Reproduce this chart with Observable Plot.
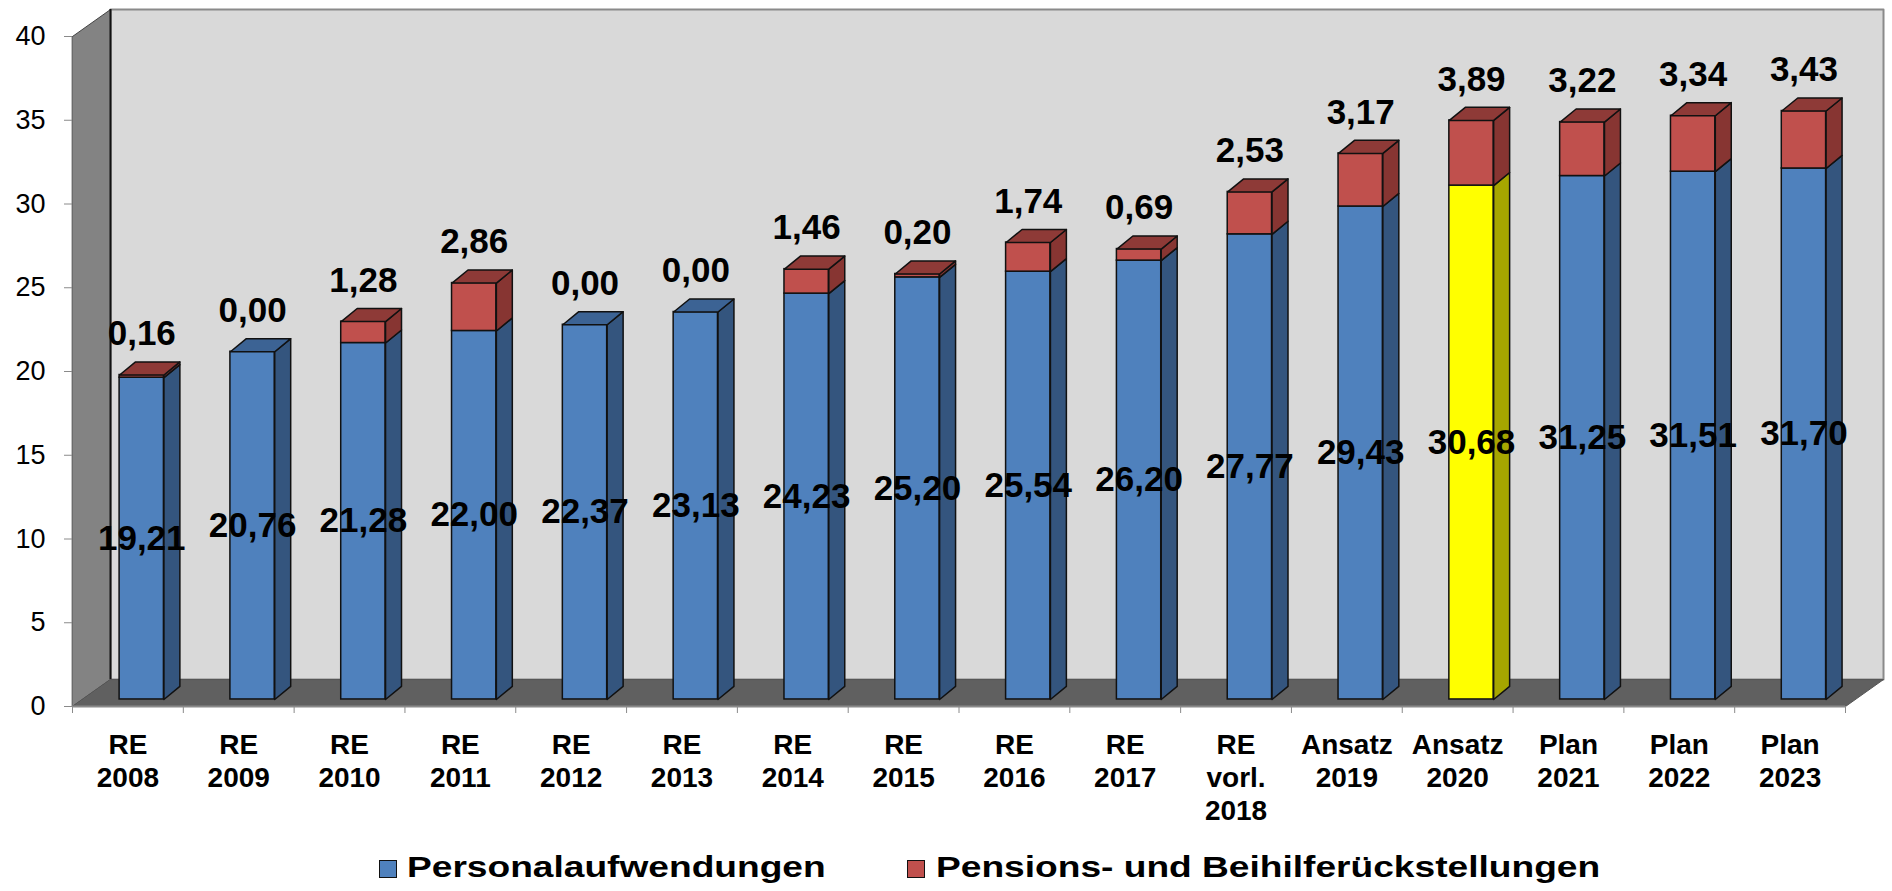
<!DOCTYPE html>
<html>
<head>
<meta charset="utf-8">
<script src="https://cdn.jsdelivr.net/npm/d3@7"></script>
<script src="https://cdn.jsdelivr.net/npm/@observablehq/plot@0.6"></script>
<style>
  body { margin: 0; background: #fff; font-family: "Liberation Sans", Arial, sans-serif; }
  #legend { position: relative; width: 1892px; height: 61px; }
  .sw { position: absolute; top: 30px; width: 18px; height: 18px; border: 1.5px solid #111; box-sizing: border-box; }
  .lt { position: absolute; top: 23px; font-weight: bold; font-size: 29px; line-height: 1; white-space: nowrap;
        transform-origin: left center; transform: scaleX(1.28); color: #000; }
</style>
</head>
<body>
<div id="chart"></div>
<div id="legend"></div>
<script>
// ---- data ----
const categories = [
  "RE\n2008", "RE\n2009", "RE\n2010", "RE\n2011", "RE\n2012", "RE\n2013", "RE\n2014", "RE\n2015",
  "RE\n2016", "RE\n2017", "RE\nvorl.\n2018", "Ansatz\n2019", "Ansatz\n2020", "Plan\n2021", "Plan\n2022", "Plan\n2023"
];
const personal = [19.21, 20.76, 21.28, 22.00, 22.37, 23.13, 24.23, 25.20, 25.54, 26.20, 27.77, 29.43, 30.68, 31.25, 31.51, 31.70];
const pension  = [0.16, 0.00, 1.28, 2.86, 0.00, 0.00, 1.46, 0.20, 1.74, 0.69, 2.53, 3.17, 3.89, 3.22, 3.34, 3.43];
const highlight = "Ansatz\n2020";
const yTicks = [0, 5, 10, 15, 20, 25, 30, 35, 40];
const seriesNames = ["Personalaufwendungen", "Pensions- und Beihilferückstellungen"];

// ---- styling / 3D geometry constants ----
const n = categories.length;
const BAR_X0 = 0.425, BAR_W = 0.4;      // bar front face within category band
const BASE = 0.42;                       // bar sits slightly back from the floor front edge
const DX = 0.144, DY = 0.78;             // bar depth (x in band units, y in value units)
const WDX = 0.343, WDY = 1.61;           // wall / floor depth
const blueC = {front: "#4f81bd", side: "#34557e", top: "#3c6394"};
const yellowC = {front: "#ffff00", side: "#a6a600", top: "#b5b500"};
const redC = {front: "#c0504d", side: "#873532", top: "#8e3a37"};
const fmt = v => v.toFixed(2).replace(".", ",");

const rows = categories.map((c, i) => ({c, i, blue: personal[i], red: pension[i], total: personal[i] + pension[i]}));

// segments (front faces)
const segs = [];
rows.forEach(r => {
  const bc = r.c === highlight ? yellowC : blueC;
  segs.push({i: r.i, y1: BASE, y2: BASE + r.blue, ...bc});
  if (r.red > 0) segs.push({i: r.i, y1: BASE + r.blue, y2: BASE + r.total, ...redC});
});

// side and top polygons
const polys = [];
segs.forEach((s, k) => {
  const x2 = s.i + BAR_X0 + BAR_W;
  [[x2, s.y1], [x2, s.y2], [x2 + DX, s.y2 + DY], [x2 + DX, s.y1 + DY]]
    .forEach(([x, y]) => polys.push({id: "side" + k, x, y, fill: s.side}));
});
rows.forEach(r => {
  const bc = r.c === highlight ? yellowC : blueC;
  const x1 = r.i + BAR_X0, x2 = x1 + BAR_W, y = BASE + r.total;
  const fill = r.red > 0 ? redC.top : bc.top;
  [[x1, y], [x2, y], [x2 + DX, y + DY], [x1 + DX, y + DY]]
    .forEach(([x, yy]) => polys.push({id: "top" + r.i, x, y: yy, fill}));
});

// walls
const yMax = yTicks[yTicks.length - 1];
const back = [[WDX, WDY], [n + WDX, WDY], [n + WDX, yMax + WDY], [WDX, yMax + WDY]].map(([x, y]) => ({id: "back", x, y}));
const left = [[0, 0], [WDX, WDY], [WDX, yMax + WDY], [0, yMax]].map(([x, y]) => ({id: "left", x, y}));
const floor = [[0, 0], [n, 0], [n + WDX, WDY], [WDX, WDY]].map(([x, y]) => ({id: "floor", x, y}));

const chart = Plot.plot({
  width: 1892,
  height: 830,
  marginLeft: 72,
  marginRight: 47,
  marginTop: 36,
  marginBottom: 124,
  style: {fontFamily: "'Liberation Sans', Arial, sans-serif", background: "#fff", overflow: "visible"},
  x: {type: "linear", domain: [0, n], axis: null, label: null},
  y: {type: "linear", domain: [0, yMax], axis: null, label: null},
  color: {type: "identity"},
  marks: [
    Plot.line(back, {x: "x", y: "y", z: "id", fill: "#d9d9d9", stroke: "#8a8a8a", strokeWidth: 2, curve: "linear-closed"}),
    Plot.line(left, {x: "x", y: "y", z: "id", fill: "#838383", stroke: "#444", strokeWidth: 1, curve: "linear-closed"}),
    Plot.line(floor, {x: "x", y: "y", z: "id", fill: "#606060", stroke: "#555", strokeWidth: 1, curve: "linear-closed"}),
    Plot.ruleX([WDX], {y1: WDY, y2: yMax + WDY, stroke: "#111", strokeWidth: 2}),
    Plot.ruleY([0], {x1: 0, x2: n, stroke: "#8a8a8a", strokeWidth: 2}),
    Plot.axisY({ticks: yTicks, anchor: "left", tickSize: 8, tickPadding: 19, fontSize: 27, stroke: "#8a8a8a", fill: "#000", label: null}),
    Plot.axisX({ticks: d3.range(0, n + 1), anchor: "bottom", tickSize: 7, tickFormat: () => "", stroke: "#8a8a8a", label: null}),
    Plot.axisX({ticks: d3.range(n).map(i => i + 0.5), anchor: "bottom", tickSize: 0, tickPadding: 24,
      tickFormat: v => categories[Math.floor(v)], fontSize: 28, fontWeight: "bold", lineHeight: 1.18, fill: "#000", label: null}),
    Plot.rect(segs, {x1: d => d.i + BAR_X0, x2: d => d.i + BAR_X0 + BAR_W, y1: "y1", y2: "y2", fill: "front", stroke: "#111", strokeWidth: 1.5}),
    Plot.line(polys, {x: "x", y: "y", z: "id", fill: "fill", stroke: "#111", strokeWidth: 1.5, curve: "linear-closed"}),
    Plot.text(rows, {x: d => d.i + BAR_X0 + BAR_W / 2, y: d => BASE + d.blue / 2, text: d => fmt(d.blue),
      fontSize: 35, fontWeight: "bold", fill: "#000"}),
    Plot.text(rows, {x: d => d.i + BAR_X0 + BAR_W / 2, y: d => BASE + d.total, text: d => fmt(d.red),
      dy: -41, fontSize: 35, fontWeight: "bold", fill: "#000"})
  ]
});
document.getElementById("chart").appendChild(chart);

// legend
const legend = document.getElementById("legend");
const legendItems = [
  {name: seriesNames[0], color: blueC.front, sx: 379, tx: 407},
  {name: seriesNames[1], color: redC.front, sx: 907, tx: 936}
];
legendItems.forEach(it => {
  const sw = document.createElement("div");
  sw.className = "sw"; sw.style.left = it.sx + "px"; sw.style.background = it.color;
  const t = document.createElement("div");
  t.className = "lt"; t.style.left = it.tx + "px"; t.textContent = it.name;
  legend.appendChild(sw); legend.appendChild(t);
});
</script>
</body>
</html>
